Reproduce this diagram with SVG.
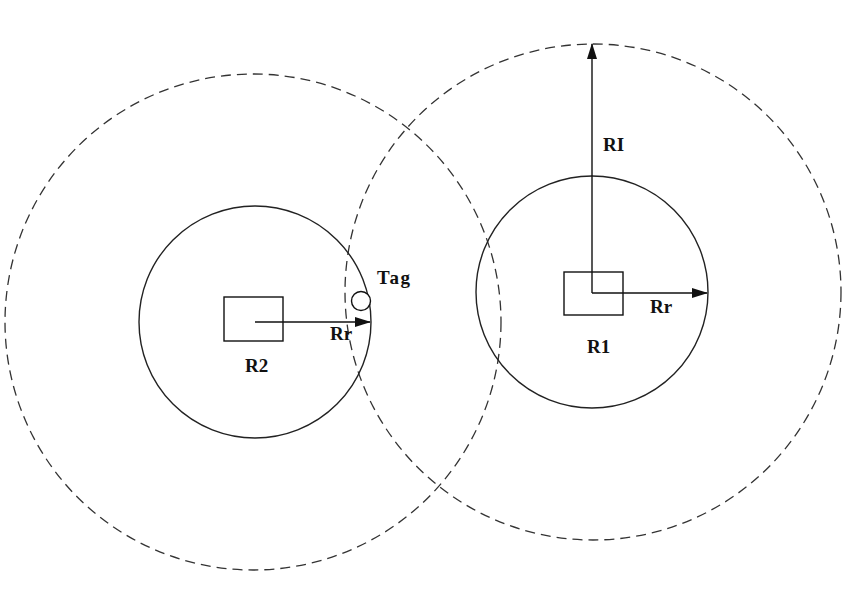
<svg xmlns="http://www.w3.org/2000/svg" width="854" height="589" viewBox="0 0 854 589">
<style>
.dash{fill:none;stroke:#333;stroke-width:1.3;stroke-dasharray:10 6}
.solid{fill:none;stroke:#222;stroke-width:1.4}
.box{fill:#fff;stroke:#111;stroke-width:1.4}
.lbl{font-family:"Liberation Serif",serif;font-weight:bold;font-size:19px;fill:#111}
.ln{stroke:#111;stroke-width:1.4;fill:none}
</style>
<defs>
<marker id="ah" markerWidth="16" markerHeight="10" refX="15" refY="5" orient="auto" markerUnits="userSpaceOnUse">
<path d="M0,0 L16,5 L0,10 Z" fill="#111"/>
</marker>
</defs>
<rect width="854" height="589" fill="#fff"/>
<g id="coverage">
<circle class="dash" cx="253" cy="322" r="248"/>
<circle class="dash" cx="593" cy="292" r="248"/>
<circle class="solid" cx="255" cy="322" r="116"/>
<circle class="solid" cx="592" cy="292" r="116"/>
</g>
<g id="R2">
<rect class="box" x="224" y="297" width="59" height="44"/>
<text class="lbl" x="245" y="372">R2</text>
</g>
<g id="R1">
<rect class="box" x="564" y="272" width="59" height="43"/>
<text class="lbl" x="587" y="353">R1</text>
</g>
<g id="Tag">
<circle cx="361" cy="301" r="9.5" fill="#fff" stroke="#111" stroke-width="1.4"/>
<text class="lbl" x="377" y="284" letter-spacing="1.5">Tag</text>
</g>
<g id="connectors">
<line class="ln" x1="255" y1="322" x2="370" y2="322" marker-end="url(#ah)"/>
<line class="ln" x1="592" y1="293" x2="707" y2="293" marker-end="url(#ah)"/>
<line class="ln" x1="592" y1="293" x2="592" y2="44" marker-end="url(#ah)"/>
</g>
<g id="labels">
<text class="lbl" x="330" y="340">Rr</text>
<text class="lbl" x="650" y="313">Rr</text>
<text class="lbl" x="603" y="151">RI</text>
</g>
</svg>
